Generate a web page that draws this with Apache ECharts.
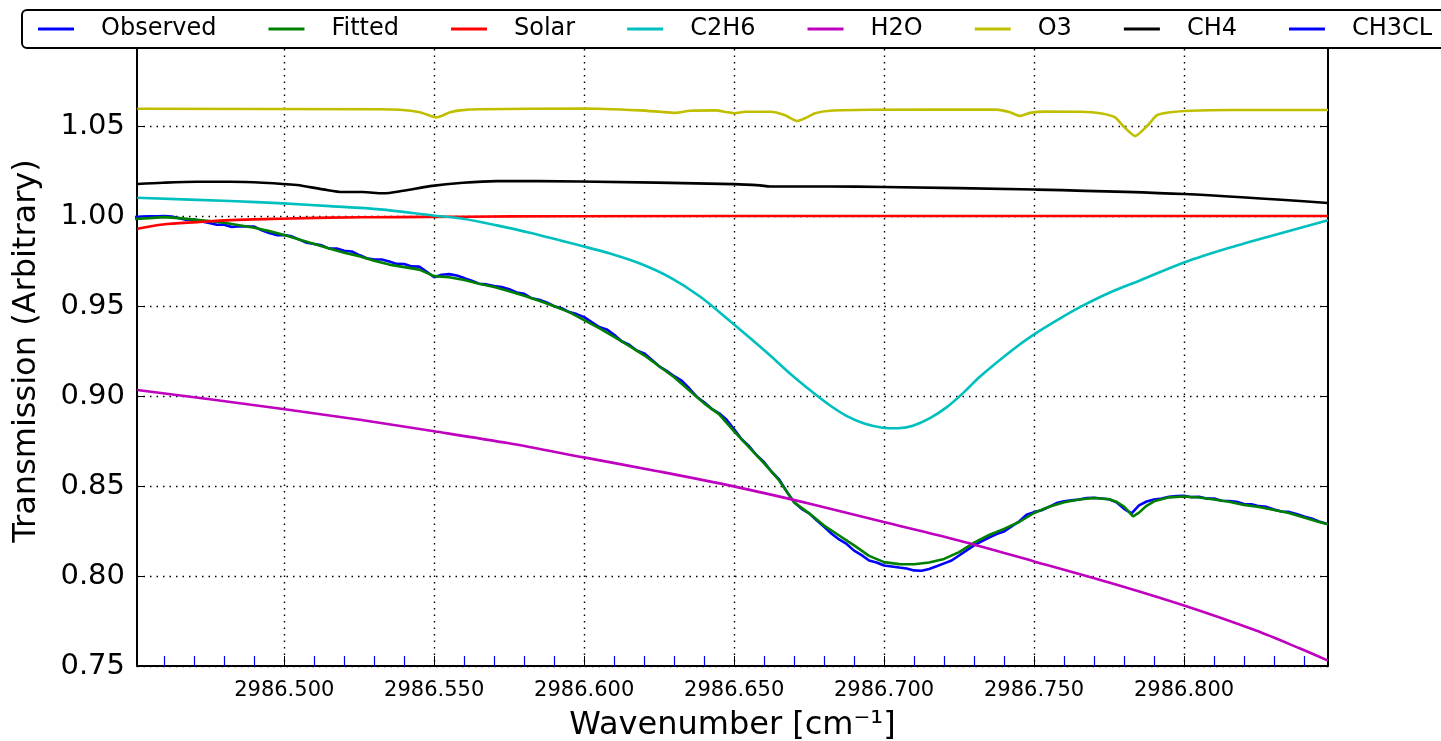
<!DOCTYPE html>
<html>
<head>
<meta charset="utf-8">
<script src="https://cdn.jsdelivr.net/npm/echarts@6/dist/echarts.min.js"></script>
<style>
html,body{margin:0;padding:0;background:#fff;}
#chart{width:1441px;height:741px;}
</style>
</head>
<body>
<div id="chart"></div>
<script>
// ---------------- DATA ----------------
const seriesNames = ['Observed','Fitted','Solar','C2H6','H2O','O3','CH4','CH3CL'];
const majorTicks = [2986.50,2986.55,2986.60,2986.65,2986.70,2986.75,2986.80];
const minorTicks = [2986.46,2986.47,2986.48,2986.49,2986.51,2986.52,2986.53,2986.54,
  2986.56,2986.57,2986.58,2986.59,2986.61,2986.62,2986.63,2986.64,
  2986.66,2986.67,2986.68,2986.69,2986.71,2986.72,2986.73,2986.74,
  2986.76,2986.77,2986.78,2986.79,2986.81,2986.82,2986.83,2986.84];

const obsWn = [
 2986.4500,2986.4525,2986.4550,2986.4575,2986.4600,2986.4625,2986.4650,2986.4675,2986.4700,2986.4725,
 2986.4750,2986.4775,2986.4800,2986.4825,2986.4850,2986.4875,2986.4900,2986.4925,2986.4950,2986.4975,
 2986.5000,2986.5025,2986.5050,2986.5075,2986.5100,2986.5125,2986.5150,2986.5175,2986.5200,2986.5225,
 2986.5250,2986.5275,2986.5300,2986.5325,2986.5350,2986.5375,2986.5400,2986.5425,2986.5450,2986.5475,
 2986.5500,2986.5525,2986.5550,2986.5575,2986.5600,2986.5625,2986.5650,2986.5675,2986.5700,2986.5725,
 2986.5750,2986.5775,2986.5800,2986.5825,2986.5850,2986.5875,2986.5900,2986.5925,2986.5950,2986.5975,
 2986.6000,2986.6025,2986.6050,2986.6075,2986.6100,2986.6125,2986.6150,2986.6175,2986.6200,2986.6225,
 2986.6250,2986.6275,2986.6300,2986.6325,2986.6350,2986.6375,2986.6400,2986.6425,2986.6450,2986.6475,
 2986.6500,2986.6525,2986.6550,2986.6575,2986.6600,2986.6625,2986.6650,2986.6675,2986.6700,2986.6725,
 2986.6750,2986.6775,2986.6800,2986.6825,2986.6850,2986.6875,2986.6900,2986.6925,2986.6950,2986.6975,
 2986.7000,2986.7025,2986.7050,2986.7075,2986.7100,2986.7125,2986.7150,2986.7175,2986.7200,2986.7225,
 2986.7250,2986.7275,2986.7300,2986.7325,2986.7350,2986.7375,2986.7400,2986.7425,2986.7450,2986.7475,
 2986.7500,2986.7525,2986.7550,2986.7575,2986.7600,2986.7625,2986.7650,2986.7675,2986.7700,2986.7725,
 2986.7750,2986.7775,2986.7800,2986.7825,2986.7850,2986.7875,2986.7900,2986.7925,2986.7950,2986.7975,
 2986.8000,2986.8025,2986.8050,2986.8075,2986.8100,2986.8125,2986.8150,2986.8175,2986.8200,2986.8225,
 2986.8250,2986.8275,2986.8300,2986.8325,2986.8350,2986.8375,2986.8400,2986.8425,2986.8450,2986.8475];
const obsVal = [
 0.9994,0.9997,0.9999,0.9999,1.0000,0.9997,0.9988,0.9978,0.9980,0.9970,
 0.9961,0.9951,0.9952,0.9939,0.9943,0.9942,0.9941,0.9920,0.9905,0.9894,
 0.9894,0.9887,0.9869,0.9851,0.9844,0.9837,0.9819,0.9819,0.9807,0.9803,
 0.9783,0.9765,0.9758,0.9758,0.9747,0.9734,0.9733,0.9720,0.9719,0.9690,
 0.9660,0.9674,0.9677,0.9669,0.9655,0.9640,0.9624,0.9620,0.9611,0.9605,
 0.9593,0.9575,0.9568,0.9543,0.9535,0.9520,0.9499,0.9488,0.9466,0.9455,
 0.9438,0.9410,0.9383,0.9370,0.9340,0.9304,0.9285,0.9253,0.9237,0.9201,
 0.9165,0.9140,0.9110,0.9085,0.9043,0.8996,0.8965,0.8929,0.8904,0.8868,
 0.8815,0.8760,0.8721,0.8671,0.8632,0.8579,0.8537,0.8470,0.8409,0.8373,
 0.8348,0.8310,0.8273,0.8235,0.8203,0.8178,0.8141,0.8116,0.8086,0.8075,
 0.8058,0.8053,0.8047,0.8042,0.8031,0.8029,0.8039,0.8054,0.8070,0.8086,
 0.8114,0.8142,0.8170,0.8192,0.8214,0.8233,0.8247,0.8275,0.8303,0.8340,
 0.8355,0.8365,0.8384,0.8405,0.8415,0.8420,0.8425,0.8433,0.8435,0.8431,
 0.8426,0.8409,0.8373,0.8348,0.8392,0.8414,0.8425,0.8430,0.8440,0.8444,
 0.8445,0.8438,0.8440,0.8430,0.8430,0.8418,0.8417,0.8412,0.8400,0.8398,
 0.8388,0.8384,0.8370,0.8358,0.8356,0.8345,0.8331,0.8320,0.8303,0.8290];

const fitWn = [
 2986.450,2986.455,2986.460,2986.465,2986.470,2986.475,2986.480,2986.485,2986.490,2986.495,
 2986.500,2986.505,2986.510,2986.515,2986.520,2986.525,2986.530,2986.535,2986.540,2986.545,
 2986.550,2986.555,2986.560,2986.565,2986.570,2986.575,2986.580,2986.585,2986.590,2986.595,
 2986.600,2986.605,2986.610,2986.615,2986.620,2986.625,2986.630,2986.635,2986.640,2986.645,
 2986.650,2986.655,2986.660,2986.665,2986.670,2986.675,2986.680,2986.685,2986.690,2986.695,
 2986.700,2986.705,2986.710,2986.715,2986.720,2986.725,2986.730,2986.735,2986.740,2986.745,
 2986.750,2986.755,2986.760,2986.765,2986.770,2986.775,2986.7775,2986.780,2986.783,2986.785,2986.7875,2986.790,2986.795,
 2986.800,2986.805,2986.810,2986.815,2986.820,2986.825,2986.830,2986.835,2986.840,2986.845,2986.848];
const fitVal = [
 0.9983,0.9988,0.9994,0.9988,0.9980,0.9972,0.9963,0.9949,0.9935,0.9916,
 0.9894,0.9869,0.9844,0.9819,0.9796,0.9777,0.9752,0.9730,0.9716,0.9702,
 0.9666,0.9660,0.9644,0.9624,0.9605,0.9582,0.9557,0.9529,0.9499,0.9466,
 0.9421,0.9377,0.9329,0.9279,0.9226,0.9165,0.9104,0.9032,0.8959,0.8898,
 0.8804,0.8715,0.8626,0.8531,0.8409,0.8348,0.8280,0.8225,0.8170,0.8112,
 0.8077,0.8066,0.8065,0.8075,0.8095,0.8133,0.8185,0.8228,0.8262,0.8300,
 0.8350,0.8385,0.8410,0.8425,0.8433,0.8426,0.8412,0.8386,0.8331,0.8352,0.8390,0.8415,0.8437,
 0.8442,0.8436,0.8425,0.8412,0.8395,0.8383,0.8367,0.8350,0.8325,0.8300,0.8288];

const solarWn  = [2986.451,2986.4595,2986.4709,2986.4819,2986.4986,2986.5152,2986.5376,2986.5596,2986.5929,2986.700,2986.848];
const solarVal = [0.9929,0.9953,0.9966,0.9977,0.9985,0.9991,0.9994,0.9996,0.9999,1.0000,1.0000];

const c2h6Wn  = [2986.451,2986.4819,2986.4996,2986.5152,2986.5319,2986.5496,2986.5596,2986.5709,2986.5819,2986.5986,
 2986.6086,2986.6186,2986.6286,2986.6386,2986.6476,2986.6553,2986.6620,2986.6686,2986.6763,2986.6820,
 2986.6876,2986.6936,2986.6996,2986.7046,2986.7096,2986.7153,2986.7209,2986.7263,2986.7320,2986.7430,
 2986.7500,2986.7587,2986.7664,2986.7753,2986.7853,2986.8000,2986.8154,2986.8320,2986.848];
const c2h6Val = [1.0101,1.0083,1.0070,1.0055,1.0037,1.0003,0.9985,0.9948,0.9907,0.9836,
 0.9792,0.9736,0.9659,0.9553,0.9431,0.9322,0.9225,0.9125,0.9019,0.8947,
 0.8888,0.8846,0.8824,0.8821,0.8835,0.8877,0.8938,0.9016,0.9108,0.9258,
 0.9342,0.9431,0.9503,0.9575,0.9642,0.9742,0.9825,0.9903,0.9976];

const h2oWn  = [2986.451,2986.4752,2986.5002,2986.5252,2986.5500,2986.5749,2986.5999,2986.6249,2986.6499,
 2986.6749,2986.6999,2986.7249,2986.7500,2986.7750,2986.8000,2986.8240,2986.8387,2986.848];
const h2oVal = [0.9033,0.8982,0.8926,0.8868,0.8804,0.8737,0.8659,0.8581,0.8498,
 0.8403,0.8300,0.8197,0.8081,0.7964,0.7836,0.7697,0.7597,0.7530];

const o3Wn  = [2986.451,2986.5319,2986.5386,2986.5452,2986.5486,2986.5506,2986.5526,2986.5553,2986.5586,2986.5653,
 2986.5996,2986.6186,2986.6253,2986.6303,2986.6353,2986.6436,2986.6480,2986.6503,2986.6536,2986.6620,
 2986.6670,2986.6710,2986.6736,2986.6770,2986.6820,2986.6953,2986.7376,2986.7420,2986.7453,2986.7486,
 2986.7536,2986.7653,2986.7720,2986.7770,2986.7797,2986.7837,2986.7877,2986.7910,2986.7954,2986.8020,2986.8154,2986.848];
const o3Val = [1.0596,1.0593,1.0590,1.0576,1.0557,1.0548,1.0557,1.0576,1.0587,1.0593,
 1.0597,1.0587,1.0579,1.0573,1.0585,1.0587,1.0576,1.0571,1.0579,1.0579,
 1.0560,1.0528,1.0543,1.0571,1.0585,1.0590,1.0591,1.0576,1.0556,1.0573,
 1.0580,1.0579,1.0571,1.0548,1.0500,1.0444,1.0500,1.0560,1.0576,1.0585,1.0589,1.0589];

const ch4Wn  = [2986.451,2986.4595,2986.4709,2986.4819,2986.4929,2986.5042,2986.5129,2986.5196,2986.5262,2986.5329,
 2986.5396,2986.5486,2986.5596,2986.5709,2986.5986,2986.6500,2986.6586,2986.6620,2986.6820,2986.7000,
 2986.7500,2986.8000,2986.848];
const ch4Val = [1.0178,1.0185,1.0190,1.0190,1.0185,1.0172,1.0148,1.0133,1.0133,1.0126,
 1.0140,1.0166,1.0185,1.0194,1.0192,1.0177,1.0170,1.0164,1.0164,1.0161,
 1.0147,1.0122,1.0072];

const ch3clWn = [];
const ch3clVal = [];

// ---------------- CHART ----------------
function zip(a, b) { return a.map((x, i) => [x, b[i]]); }
const FONT = 'DejaVu Sans';
const dotted = { color: '#000', width: 1.4, type: [1.5, 5] };

const colors = ['#0000ff','#008000','#ff0000','#00bfbf','#bf00bf','#bfbf00','#000000','#0000ff'];
const datasets = [zip(obsWn,obsVal), zip(fitWn,fitVal), zip(solarWn,solarVal), zip(c2h6Wn,c2h6Val),
  zip(h2oWn,h2oVal), zip(o3Wn,o3Val), zip(ch4Wn,ch4Val), zip(ch3clWn,ch3clVal)];
const smoothFlags = [false,false,0.3,0.3,0.3,0.2,0.3,false];

const chart = echarts.init(document.getElementById('chart'), null, {renderer:'canvas'});
chart.setOption({
  animation: false,
  backgroundColor: '#fff',
  color: colors,
  textStyle: { fontFamily: FONT },
  grid: { left: 137, right: 113, top: 36, bottom: 75, containLabel: false, outerBoundsMode: 'none' },
  legend: {
    left: 22, top: 10, width: 1500,
    orient: 'horizontal',
    padding: [7, 30, 7, 16],
    itemGap: 52,
    itemWidth: 36, itemHeight: 3,
    backgroundColor: '#fff',
    borderColor: '#000', borderWidth: 2, borderRadius: 5,
    textStyle: { fontSize: 24, color: '#000', fontFamily: FONT, padding: [0,0,0,22] },
    data: seriesNames.map(n => ({ name: n, icon: 'rect' }))
  },
  xAxis: [
    {
      type: 'value', min: 2986.4509, max: 2986.848, position: 'bottom',
      name: 'Wavenumber [cm\u207B\u00B9]', nameLocation: 'middle', nameGap: 44,
      nameTextStyle: { fontSize: 32, color: '#000', fontFamily: FONT },
      axisLine: { onZero: false, lineStyle: { color: '#000', width: 2 } },
      axisTick: { inside: true, length: 10, customValues: majorTicks, lineStyle: { color: '#000', width: 1 } },
      axisLabel: { customValues: majorTicks, formatter: v => v.toFixed(3), fontSize: 21, color: '#000', margin: 14, fontFamily: FONT },
      splitLine: { show: true, lineStyle: dotted }
    },
    {
      type: 'value', min: 2986.4509, max: 2986.848, position: 'bottom',
      axisLine: { show: false, onZero: false },
      axisTick: { show: true, inside: true, length: 10, customValues: minorTicks, lineStyle: { color: '#0000ff', width: 1.2 } },
      axisLabel: { show: false },
      splitLine: { show: false }
    }
  ],
  yAxis: [
    {
      type: 'value', min: 0.75, max: 1.10, interval: 0.05, position: 'left',
      name: 'Transmission (Arbitrary)', nameLocation: 'middle', nameGap: 94, nameRotate: 90,
      nameTextStyle: { fontSize: 32, color: '#000', fontFamily: FONT },
      axisLine: { show: true, onZero: false, lineStyle: { color: '#000', width: 2 } },
      axisTick: { show: true, inside: true, length: 8, lineStyle: { color: '#000' } },
      axisLabel: { formatter: v => v.toFixed(2), fontSize: 29, color: '#000', margin: 12, showMaxLabel: false, fontFamily: FONT },
      splitLine: { show: true, lineStyle: dotted }
    },
    {
      type: 'value', min: 0.75, max: 1.10, interval: 0.05, position: 'right',
      axisLine: { show: true, onZero: false, lineStyle: { color: '#000', width: 2 } },
      axisTick: { show: true, inside: true, length: 8, lineStyle: { color: '#000' } },
      axisLabel: { show: false },
      splitLine: { show: false }
    }
  ],
  series: seriesNames.map((n, i) => ({
    name: n, type: 'line', xAxisIndex: 0, yAxisIndex: 0,
    data: datasets[i], showSymbol: false, symbol: 'none',
    smooth: smoothFlags[i], clip: true,
    lineStyle: { width: 2.6, color: colors[i] },
    itemStyle: { color: colors[i] },
    emphasis: { disabled: true }
  }))
});
</script>
</body>
</html>
